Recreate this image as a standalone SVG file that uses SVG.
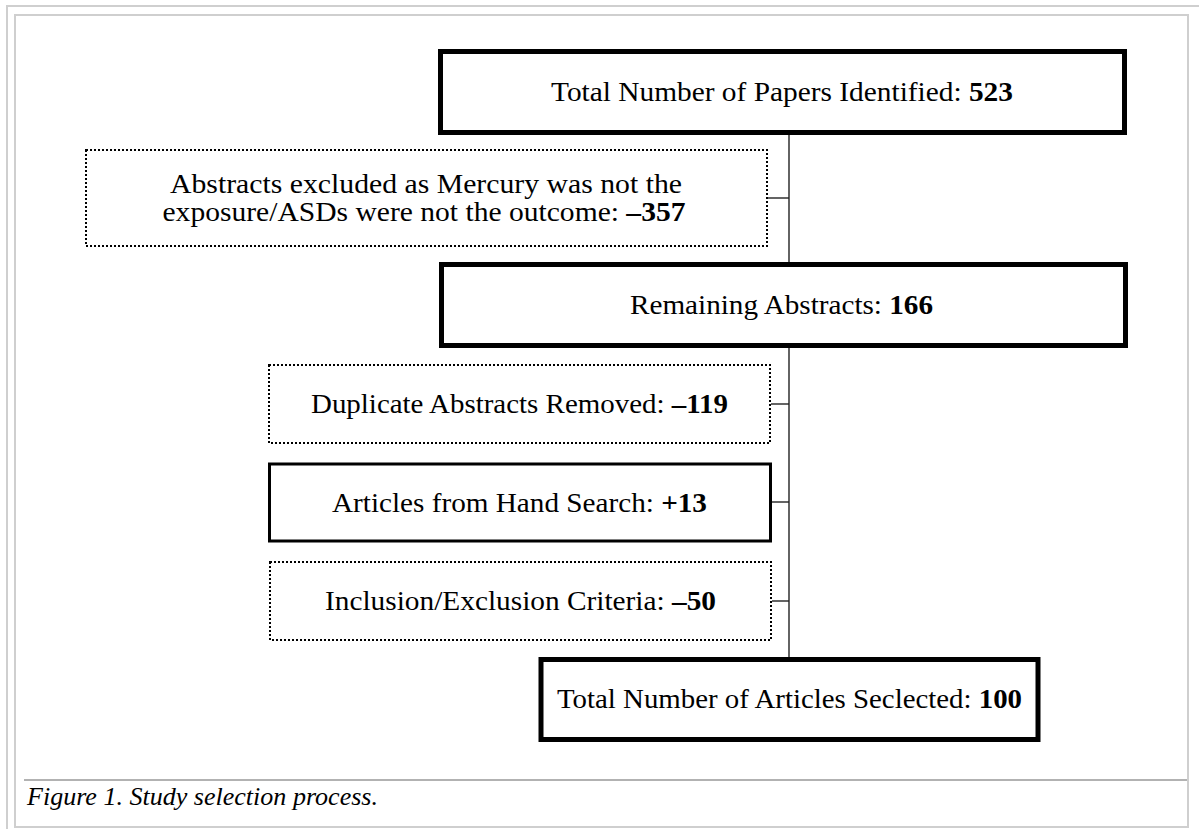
<svg xmlns="http://www.w3.org/2000/svg" width="1199" height="829" viewBox="0 0 1199 829">
<style>
.frame{fill:none;stroke:#cfcfcf;stroke-width:2}
.thick{fill:#fff;stroke:#000;stroke-width:5}
.thin{fill:#fff;stroke:#000;stroke-width:3}
.dot{fill:#fff;stroke:#000;stroke-width:2;stroke-dasharray:2 2}
.lbl{font-family:"Liberation Serif","Times New Roman",serif;font-size:28px;fill:#000;text-anchor:middle}
.sm{font-size:26.5px}
.b{font-weight:bold}
.conn{stroke:#222;stroke-width:1.4;fill:none}
.cap{font-family:"Liberation Serif","Times New Roman",serif;font-size:25px;font-style:italic;fill:#000}
</style>
<rect width="1199" height="829" fill="#fff"/>
<rect class="frame" x="7" y="6" width="1220" height="840"/>
<rect class="frame" x="15" y="15" width="1173" height="812"/>
<line x1="24" y1="780" x2="1187" y2="780" stroke="#999" stroke-width="1.5"/>
<text class="cap" x="27" y="805" textLength="351" lengthAdjust="spacingAndGlyphs">Figure 1. Study selection process.</text>

<g id="connectors">
<line class="conn" x1="789" y1="134" x2="789" y2="657"/>
<line class="conn" x1="768" y1="198" x2="789" y2="198"/>
<line class="conn" x1="771" y1="404" x2="789" y2="404"/>
<line class="conn" x1="771" y1="502" x2="789" y2="502"/>
<line class="conn" x1="772" y1="601" x2="789" y2="601"/>
</g>

<g id="n1">
<rect class="thick" x="440.5" y="51.5" width="684" height="81"/>
<text class="lbl" x="782" y="101" textLength="462" lengthAdjust="spacingAndGlyphs">Total Number of Papers Identified: <tspan class="b">523</tspan></text>
</g>
<g id="n2">
<rect class="dot" x="86" y="150" width="681" height="96"/>
<text class="lbl sm" x="426" y="193" textLength="512" lengthAdjust="spacingAndGlyphs">Abstracts excluded as Mercury was not the</text>
<text class="lbl sm" x="424" y="221" textLength="523" lengthAdjust="spacingAndGlyphs">exposure/ASDs were not the outcome: <tspan class="b">–357</tspan></text>
</g>
<g id="n3">
<rect class="thick" x="441.5" y="264.5" width="684" height="81"/>
<text class="lbl" x="781.5" y="314" textLength="303" lengthAdjust="spacingAndGlyphs">Remaining Abstracts: <tspan class="b">166</tspan></text>
</g>
<g id="n4">
<rect class="dot" x="269" y="365" width="501" height="78"/>
<text class="lbl" x="519.5" y="413" textLength="417" lengthAdjust="spacingAndGlyphs">Duplicate Abstracts Removed: <tspan class="b">–119</tspan></text>
</g>
<g id="n5">
<rect class="thin" x="269.5" y="464" width="501" height="77"/>
<text class="lbl" x="519.5" y="512" textLength="375" lengthAdjust="spacingAndGlyphs">Articles from Hand Search: <tspan class="b">+13</tspan></text>
</g>
<g id="n6">
<rect class="dot" x="270" y="562" width="501" height="78"/>
<text class="lbl" x="520.5" y="610" textLength="391" lengthAdjust="spacingAndGlyphs">Inclusion/Exclusion Criteria: <tspan class="b">–50</tspan></text>
</g>
<g id="n7">
<rect class="thick" x="541" y="659.5" width="497" height="80"/>
<text class="lbl" x="789.5" y="708" textLength="465" lengthAdjust="spacingAndGlyphs">Total Number of Articles Seclected: <tspan class="b">100</tspan></text>
</g>
</svg>
